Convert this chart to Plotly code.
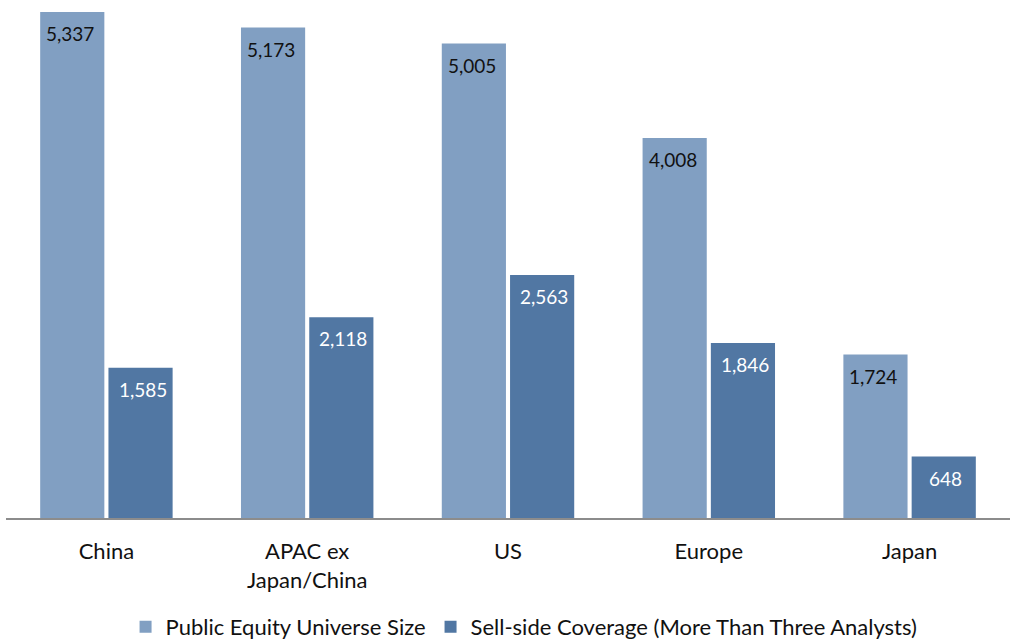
import plotly.graph_objects as go

categories = ["China", "APAC ex<br>Japan/China", "US", "Europe", "Japan"]
universe = [5337, 5173, 5005, 4008, 1724]
coverage = [1585, 2118, 2563, 1846, 648]
series_names = ["Public Equity Universe Size", "Sell-side Coverage (More Than Three Analysts)"]

light = "#819fc2"
dark = "#5177a3"
FONT = "Lato"

fig = go.Figure()
fig.add_trace(go.Bar(x=categories, y=universe, name=series_names[0], marker_color=light,
                     marker_line_width=0))
fig.add_trace(go.Bar(x=categories, y=coverage, name=series_names[1], marker_color=dark,
                     marker_line_width=0))

off = 0.18
for i, (u, c) in enumerate(zip(universe, coverage)):
    fig.add_annotation(x=i - off, y=u, xref="x", yref="y", text=f"{u:,}", showarrow=False,
                       yanchor="top", yshift=-8, font=dict(family=FONT, size=19, color="#111111"))
    fig.add_annotation(x=i + off, y=c, xref="x", yref="y", text=f"{c:,}", showarrow=False,
                       yanchor="top", yshift=-8, font=dict(family=FONT, size=19, color="white"))

fig.update_layout(
    width=1010, height=642,
    margin=dict(l=6, r=0, t=0, b=124, autoexpand=False),
    paper_bgcolor="white", plot_bgcolor="white",
    barmode="group", bargap=0.32, bargroupgap=0.06,
    font=dict(family=FONT, size=22, color="#111111"),
    showlegend=True,
    legend=dict(orientation="h", x=0.516, xanchor="center", yref="container",
                y=(642 - 627) / 642, yanchor="middle",
                font=dict(family=FONT, size=22), itemwidth=30, traceorder="normal"),
    xaxis=dict(showline=True, linecolor="#8c8c8c", linewidth=2, ticks="", showgrid=False,
               ticklabelstandoff=13, tickfont=dict(family=FONT, size=22)),
    yaxis=dict(range=[0, 5464], visible=False, showgrid=False),
)

fig.write_html("out.html")
